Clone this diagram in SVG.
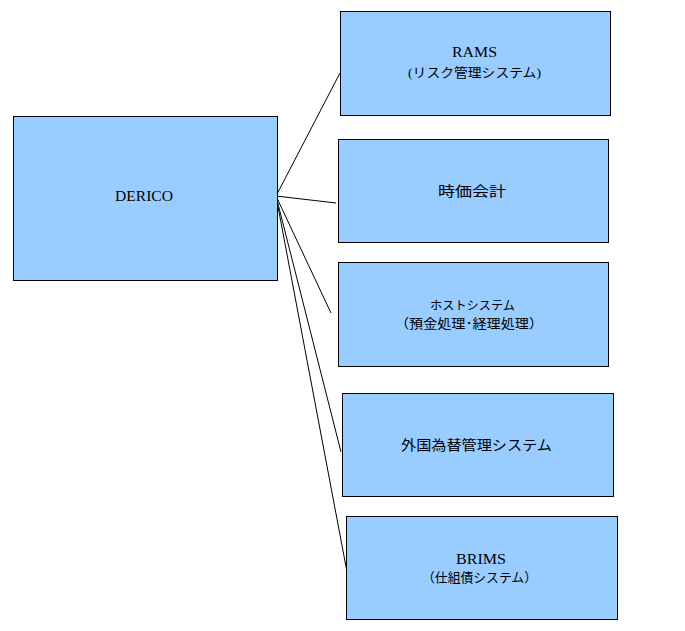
<svg xmlns="http://www.w3.org/2000/svg" width="685" height="631" viewBox="0 0 685 631">
<style>
.box{fill:#99CCFF;stroke:#000;stroke-width:1}
.t{font-family:"Liberation Serif","Noto Sans CJK JP",serif;font-size:14px;fill:#000;text-anchor:middle}
.j{font-family:"Noto Sans CJK JP","Liberation Sans",sans-serif;font-size:14px;fill:#000;text-anchor:middle}
.s{font-size:13px}
.c{stroke:#000;stroke-width:1;fill:none}
</style>
<rect width="685" height="631" fill="#fff"/>
<g id="connectors">
<line class="c" x1="276" y1="196" x2="340" y2="73"/>
<line class="c" x1="276" y1="196" x2="336" y2="203"/>
<line class="c" x1="276" y1="196" x2="331" y2="313"/>
<line class="c" x1="276" y1="196" x2="341" y2="452"/>
<line class="c" x1="276" y1="196" x2="347" y2="572"/>
<path class="c" d="M272,194 L276,196 L273,199"/>
</g>
<g id="derico">
<rect class="box" x="13.5" y="116.5" width="264" height="164"/>
<text class="t" x="144" y="201" textLength="58" lengthAdjust="spacingAndGlyphs">DERICO</text>
</g>
<g id="rams">
<rect class="box" x="340.5" y="11.5" width="270" height="104"/>
<text class="t" x="474.5" y="57" textLength="45" lengthAdjust="spacingAndGlyphs">RAMS</text>
<text class="t s" x="474.5" y="77" textLength="133" lengthAdjust="spacingAndGlyphs">(リスク管理システム)</text>
</g>
<g id="jika">
<rect class="box" x="338.5" y="139.5" width="270" height="103"/>
<text class="j" x="472" y="196" textLength="68" lengthAdjust="spacingAndGlyphs">時価会計</text>
</g>
<g id="host">
<rect class="box" x="338.5" y="262.5" width="270" height="104"/>
<text class="j" style="font-size:12px" x="472.5" y="310" textLength="85" lengthAdjust="spacingAndGlyphs">ホストシステム</text>
<text class="j s" x="469" y="328" textLength="148" lengthAdjust="spacingAndGlyphs">（預金処理･経理処理）</text>
</g>
<g id="gaikoku">
<rect class="box" x="342.5" y="393.5" width="271" height="103"/>
<text class="j" x="476.5" y="450" textLength="151" lengthAdjust="spacingAndGlyphs">外国為替管理システム</text>
</g>
<g id="brims">
<rect class="box" x="346.5" y="516.5" width="271" height="103"/>
<text class="t" x="481" y="564" textLength="50" lengthAdjust="spacingAndGlyphs">BRIMS</text>
<text class="j s" x="479.5" y="582" textLength="115" lengthAdjust="spacingAndGlyphs">（仕組債システム）</text>
</g>
</svg>
